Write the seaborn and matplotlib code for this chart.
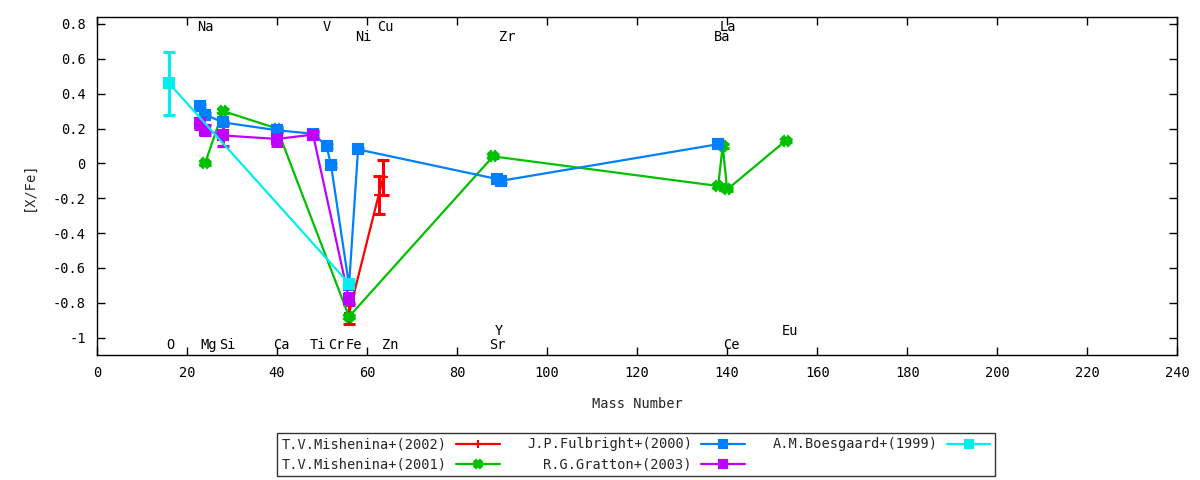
import matplotlib
matplotlib.use("Agg")
import matplotlib.pyplot as plt
import seaborn as sns

sns.set_theme(style="ticks")
plt.rcParams["font.family"] = ["DejaVu Sans Mono", "DejaVu Sans"]
plt.rcParams["axes.unicode_minus"] = False

# --- data: mass number, [X/Fe], error ---
mish02_mass = [56, 62.6, 63.6]
mish02_val = [-0.86, -0.18, -0.08]
mish02_err = [0.06, 0.11, 0.10]

mish01_mass = [24, 28, 40, 56, 88, 138, 139, 140, 153]
mish01_val = [0.00, 0.30, 0.20, -0.88, 0.04, -0.13, 0.10, -0.15, 0.13]
mish01_err = [0.01, 0.01, 0.01, 0.01, 0.01, 0.01, 0.01, 0.01, 0.01]

fulb_mass = [23, 24, 28, 40, 48, 51, 52, 56, 58, 88.9, 89.8, 138]
fulb_val = [0.33, 0.28, 0.235, 0.19, 0.17, 0.10, -0.01, -0.70, 0.08, -0.09, -0.10, 0.11]
fulb_err = [0.01] * 12

gratt_mass = [23, 24, 28, 40, 48, 56]
gratt_val = [0.23, 0.19, 0.16, 0.14, 0.165, -0.78]
gratt_err = [0.03, 0.03, 0.06, 0.04, 0.02, 0.035]

boes_mass = [16, 56]
boes_val = [0.46, -0.69]
boes_err = [0.18, 0.02]

series = [
    ("T.V.Mishenina+(2002)", mish02_mass, mish02_val, mish02_err, "#ff0000", "+"),
    ("T.V.Mishenina+(2001)", mish01_mass, mish01_val, mish01_err, "#00c000", "X"),
    ("J.P.Fulbright+(2000)", fulb_mass, fulb_val, fulb_err, "#0080ff", "s"),
    ("R.G.Gratton+(2003)", gratt_mass, gratt_val, gratt_err, "#c000ff", "s"),
    ("A.M.Boesgaard+(1999)", boes_mass, boes_val, boes_err, "#00eeee", "s"),
]

# element labels (x position, level)
elem_names = ["Na", "V", "Cu", "Ni", "Zr", "La", "Ba",
              "O", "Mg", "Si", "Ca", "Ti", "Cr", "Fe", "Zn", "Sr", "Ce", "Y", "Eu"]
elem_x = [24, 51.1, 64, 59.1, 91.1, 140.2, 138.9,
          16.2, 24.9, 28.9, 41, 49.1, 53.1, 57.1, 65.1, 88.9, 140.9, 89.3, 154]
elem_y = [0.785, 0.785, 0.785, 0.725, 0.725, 0.785, 0.725,
          -1.04, -1.04, -1.04, -1.04, -1.04, -1.04, -1.04, -1.04, -1.04, -1.04, -0.96, -0.96]

fig = plt.figure(figsize=(12, 4.8), dpi=100)
ax = fig.add_axes([0.0808, 0.2604, 0.9003, 0.7042])

for label, m, v, e, c, mk in series:
    ax.errorbar(m, v, yerr=e, fmt="none", ecolor=c, elinewidth=2.2,
                capsize=4, capthick=2.2, zorder=2)
    ms = 7 if mk in ("+", "X") else 6.5
    sns.lineplot(x=m, y=v, ax=ax, color=c, marker=mk, markersize=ms,
                 markeredgecolor=c, markeredgewidth=1.5, linewidth=1.6,
                 sort=False, estimator=None, label=label, zorder=3)

for name, x, y in zip(elem_names, elem_x, elem_y):
    ax.text(x, y, name, ha="center", va="center", fontsize=9.8, color="black")

ax.set_xlim(0, 240)
ax.set_ylim(-1.1, 0.84)
ax.set_xticks(range(0, 241, 20))
ax.set_yticks([-1, -0.8, -0.6, -0.4, -0.2, 0, 0.2, 0.4, 0.6, 0.8])
ax.set_yticklabels(["-1", "-0.8", "-0.6", "-0.4", "-0.2", "0", "0.2", "0.4", "0.6", "0.8"])
ax.tick_params(direction="in", length=6, width=1, top=True, right=True,
               labelsize=9.8, colors="black", pad=8)
for sp in ax.spines.values():
    sp.set_color("black")
    sp.set_linewidth(1)
ax.grid(False)

ax.set_xlabel("Mass Number", fontsize=9.8, labelpad=12)
ax.set_ylabel("[X/Fe]", fontsize=9.8, labelpad=12)

h, l = ax.get_legend_handles_labels()
ax.legend_.remove()
leg = fig.legend(h, l, ncol=3, markerfirst=False, loc="center",
                 bbox_to_anchor=(0.53, 0.053), fontsize=9.8, frameon=True,
                 fancybox=False, edgecolor="black", handlelength=3.2,
                 columnspacing=2.0, handletextpad=0.7, borderpad=0.35,
                 labelspacing=0.45, markerscale=0.85)
leg.get_frame().set_linewidth(1)

fig.savefig("out.png", dpi=100)
